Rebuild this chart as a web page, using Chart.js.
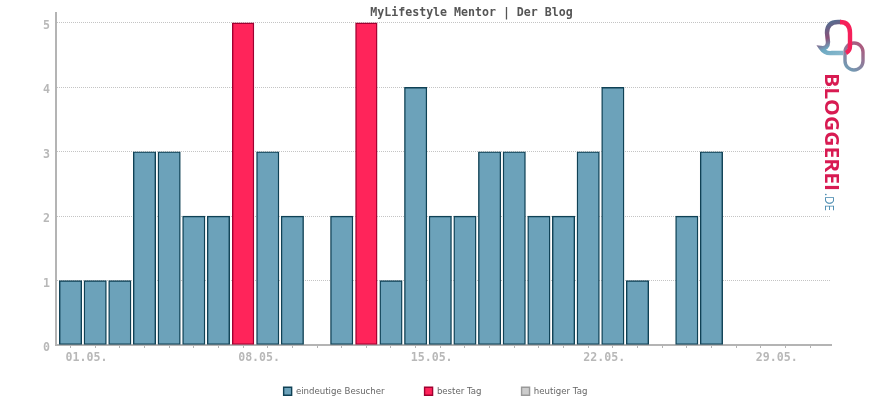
<!DOCTYPE html>
<html>
<head>
<meta charset="utf-8">
<script src="https://cdn.jsdelivr.net/npm/chart.js@4"></script>
<style>
html,body{margin:0;padding:0;background:#fff;overflow:hidden}
#wrap{position:relative;width:870px;height:400px}
#logo{position:absolute;left:0;top:0;pointer-events:none}
</style>
</head>
<body>
<div id="wrap">
<canvas id="c" width="870" height="400"></canvas>
<svg id="logo" width="870" height="400" xmlns="http://www.w3.org/2000/svg">
  <defs>
    <linearGradient id="txt" gradientUnits="userSpaceOnUse" x1="0" y1="73" x2="0" y2="195">
      <stop offset="0" stop-color="#d81b52"/><stop offset=".5" stop-color="#8a3f70"/><stop offset="1" stop-color="#4f6f9a"/>
    </linearGradient>
    <linearGradient id="b1" gradientUnits="userSpaceOnUse" x1="845" y1="56" x2="830" y2="20">
      <stop offset="0" stop-color="#8fbccf"/><stop offset=".35" stop-color="#6ca9c2"/><stop offset=".6" stop-color="#8a5078"/><stop offset="1" stop-color="#4f6f92"/>
    </linearGradient>
    <linearGradient id="b2" gradientUnits="userSpaceOnUse" x1="845" y1="70" x2="864" y2="45">
      <stop offset="0" stop-color="#6ca2ba"/><stop offset="1" stop-color="#b0557a"/>
    </linearGradient>
  </defs>
  <rect x="845" y="43" width="18" height="27" rx="9" fill="none" stroke="url(#b2)" stroke-width="3.4"/>
  <path d="M843 53 L832 53 Q825 54 821 48 Q828 49 828 42 L827 33 Q827 22 838 22 L841 22" fill="none" stroke="url(#b1)" stroke-width="4.4"/>
  <path d="M840 22 Q850 22 850 33 L850 46 Q850 51 846 53" fill="none" stroke="#f5205a" stroke-width="4.4"/>
  <text transform="translate(825,73) rotate(90)" font-family="Open Sans, Liberation Sans, sans-serif" font-weight="700" font-size="20" fill="url(#txt)" textLength="118" lengthAdjust="spacingAndGlyphs">BLOGGEREI</text>
  <text transform="translate(825,193) rotate(90)" font-family="Open Sans, Liberation Sans, sans-serif" font-size="12" fill="#4a8bb0" textLength="18" lengthAdjust="spacingAndGlyphs">.DE</text>
</svg>
</div>
<script>
const days = [1,2,3,4,5,6,7,8,9,10,11,12,13,14,15,16,17,18,19,20,21,22,23,24,25,26,27,28,29,30,31];
const dayLabels = {1:'01.05.',8:'08.05.',15:'15.05.',22:'22.05.',29:'29.05.'};
const visitors = [1,1,1,3,3,2,2,null,3,2,0,2,null,1,4,2,2,3,3,2,2,3,4,1,0,2,3,0,0,0,0];
const bestDay  = [null,null,null,null,null,null,null,5,null,null,null,null,5,null,null,null,null,null,null,null,null,null,null,null,null,null,null,null,null,null,null];
const today    = days.map(() => null);
const seriesNames = ['eindeutige Besucher','bester Tag','heutiger Tag'];
const chartTitle = 'MyLifestyle Mentor | Der Blog';

const placeBlocks = {
  id:'placeBlocks',
  beforeLayout(chart){
    const l = chart.legend;
    if (!l._wrapped){
      l._wrapped = true;
      const fit = l.fit;
      l.fit = function(){ fit.call(this); this.height = 12; };
    }
  },
  afterLayout(chart){
    const t = chart.titleBlock, l = chart.legend;
    t.left += 56; t.right += 56;
    l.left += 20; l.right += 20;
    l.top = 347;
  }
};
const MONO = '"DejaVu Sans Mono", monospace';
new Chart(document.getElementById('c'), {
  type:'bar',
  plugins:[placeBlocks],
  data:{
    labels:days,
    datasets:[
      {label:seriesNames[0],data:visitors,backgroundColor:'#6ca2ba',borderColor:'#0f4155',borderWidth:1.4,borderSkipped:false,barThickness:22.4,grouped:false},
      {label:seriesNames[1],data:bestDay,backgroundColor:'#ff245a',borderColor:'#a00030',borderWidth:1.4,borderSkipped:false,barThickness:21.6,grouped:false},
      {label:seriesNames[2],data:today,backgroundColor:'#cccccc',borderColor:'#999999',borderWidth:1.4,borderSkipped:false,barThickness:22,grouped:false}
    ]
  },
  options:{
    responsive:false,
    animation:false,
    devicePixelRatio:1,
    layout:{padding:{left:0,right:39,top:0,bottom:3}},
    plugins:{
      tooltip:{enabled:false},
      title:{display:true,text:chartTitle,color:'#555555',font:{family:MONO,size:11.6,weight:'bold',lineHeight:1},padding:{top:6,bottom:-6}},
      legend:{
        position:'bottom',
        labels:{boxWidth:8,boxHeight:8,padding:40,color:'#666666',font:{family:'"DejaVu Sans", sans-serif',size:8.6,lineHeight:1}}
      }
    },
    scales:{
      x:{
        type:'linear',
        offset:false,
        min:0.41,max:31.85,
        afterBuildTicks(s){ s.ticks = days.map(v => ({value:v})); },
        afterFit(s){ s.height = 40; },
        grid:{offset:false,drawOnChartArea:false,drawTicks:true,tickLength:3,color:'#b4b4b4',lineWidth:1},
        border:{color:'#b4b4b4',width:2},
        ticks:{autoSkip:false,maxRotation:0,minRotation:0,labelOffset:16,padding:3,color:'#b8b8b8',
          font:{family:MONO,size:11.6,weight:'bold'},
          callback(v){ return dayLabels[v] || ''; }}
      },
      y:{
        min:0,max:5.155,
        afterFit(s){ s.width = 56; },
        grid:{color:'#c4c4c4',lineWidth:1,drawTicks:false},
        border:{color:'#b4b4b4',width:2,dash:[1,1]},
        ticks:{stepSize:1,includeBounds:false,padding:6,labelOffset:3,color:'#b8b8b8',font:{family:MONO,size:11.6,weight:'bold'}}
      }
    }
  }
});
</script>
</body>
</html>
